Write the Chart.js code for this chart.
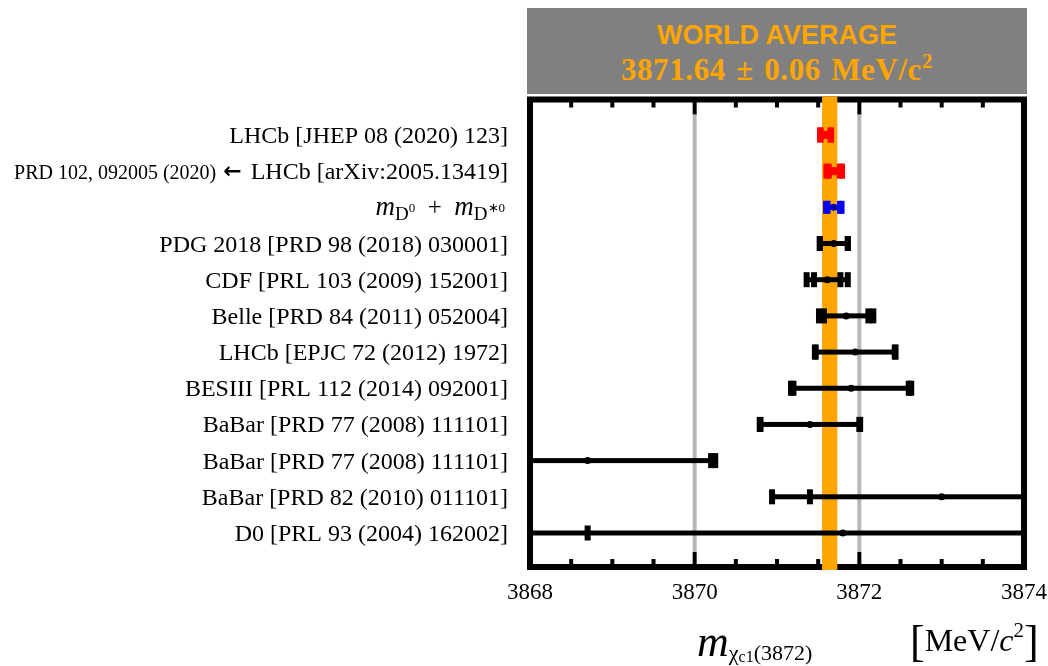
<!DOCTYPE html>
<html>
<head>
<meta charset="utf-8">
<script src="https://cdn.jsdelivr.net/npm/chart.js@4.4.1/dist/chart.umd.min.js"></script>
<style>
  html, body { margin: 0; padding: 0; background: #fff; }
  #wrap { position: relative; width: 1048px; height: 666px; overflow: hidden; }
  #chart { position: absolute; left: 0; top: 0; }
  #head {
    position: absolute; left: 527px; top: 8px; width: 500px; height: 86px;
    background: #808080; color: #FFA500; text-align: center;
  }
  #head .l1 { position: absolute; left: 0; right: 0; top: 12px; font: bold 27px "Liberation Sans", Arial, sans-serif; line-height: 30px; }
  #head .l2 { position: absolute; left: 0; right: 0; top: 44px; font: bold 31px "Liberation Serif", "Times New Roman", serif; line-height: 36px; letter-spacing: 0.6px; word-spacing: 2px; }
  #head .l2 sup { font-size: 21px; vertical-align: 12px; line-height: 0; }
  .xt { position: absolute; font-family: "Liberation Serif", "Times New Roman", serif; color: #000; white-space: nowrap; line-height: 1; }
  #xname { left: 697px; top: 620px; font-size: 44px; }
  #xname sub { font-size: 22px; vertical-align: -4px; }
  #xname sub sub { font-size: 16px; vertical-align: -2px; }
  #xunit { left: 910px; top: 620px; font-size: 32px; }
  #xunit .br { font-size: 44px; vertical-align: -5px; }
  #xunit sup { font-size: 21px; vertical-align: 14px; }
</style>
</head>
<body>
<div id="wrap">
  <canvas id="chart" width="1048" height="666"></canvas>
  <div id="head">
    <div class="l1">WORLD AVERAGE</div>
    <div class="l2">3871.64 ± 0.06 MeV/c<sup>2</sup></div>
  </div>
  <div class="xt" id="xname"><i>m</i><sub>χ<sub>c1</sub>(3872)</sub></div>
  <div class="xt" id="xunit"><span class="br">[</span>MeV/<i>c</i><sup>2</sup><span class="br">]</span></div>
</div>
<script>
// measurements, top row first
const labels = [
  "LHCb [JHEP 08 (2020) 123]",
  "LHCb [arXiv:2005.13419]",
  "mD0+mD*0",
  "PDG 2018 [PRD 98 (2018) 030001]",
  "CDF [PRL 103 (2009) 152001]",
  "Belle [PRD 84 (2011) 052004]",
  "LHCb [EPJC 72 (2012) 1972]",
  "BESIII [PRL 112 (2014) 092001]",
  "BaBar [PRD 77 (2008) 111101]",
  "BaBar [PRD 77 (2008) 111101]",
  "BaBar [PRD 82 (2010) 011101]",
  "D0 [PRL 93 (2004) 162002]"
];
const masses = [3871.59, 3871.695, 3871.69, 3871.69, 3871.61, 3871.84, 3871.95, 3871.9, 3871.4, 3868.7, 3873.0, 3871.8];
const statLow = [0.06, 0.067, 0.07, 0.17, 0.16, 0.27, 0.48, 0.7, 0.6, 1.5, 1.6, 3.1];
const statHigh = [0.06, 0.067, 0.07, 0.17, 0.16, 0.27, 0.48, 0.7, 0.6, 1.5, 1.8, 3.1];
const totLow = [0.067, 0.095, 0.1, 0.17, 0.25, 0.33, 0.49, 0.73, 0.61, 1.55, 2.06, 4.3];
const totHigh = [0.067, 0.095, 0.1, 0.17, 0.25, 0.33, 0.49, 0.73, 0.61, 1.55, 2.22, 4.3];
const worldAvg = 3871.64;
const worldErr = 0.06;
const xTicks = [3868, 3870, 3872, 3874];

const rowColors = ["#ff0000", "#ff0000", "#0000ff", "#000", "#000", "#000", "#000", "#000", "#000", "#000", "#000", "#000"];
const serif = '"Liberation Serif", "Times New Roman", serif';

const errorBars = {
  id: "errorBars",
  beforeDatasetsDraw(chart) {
    const ctx = chart.ctx;
    const a = chart.chartArea;
    const xs = chart.scales.x;
    const ys = chart.scales.y;
    ctx.save();

    // frame
    ctx.strokeStyle = "#000";
    ctx.lineWidth = 6;
    ctx.strokeRect(a.left, a.top, a.right - a.left, a.bottom - a.top);

    // inward ticks every 0.5
    ctx.fillStyle = "#000";
    for (let v = 3868.5; v < 3874; v += 0.5) {
      const px = xs.getPixelForValue(v);
      const major = Math.abs(v - Math.round(v / 2) * 2) < 1e-6;
      const len = major ? 15 : 8;
      ctx.fillRect(px - 2, a.top, 4, len);
      ctx.fillRect(px - 2, a.bottom - len, 4, len);
    }

    // dotted grey lines at 3870 and 3872
    ctx.strokeStyle = "#707070";
    ctx.lineWidth = 4;
    ctx.setLineDash([1, 1]);
    [3870, 3872].forEach(v => {
      const px = xs.getPixelForValue(v);
      ctx.beginPath();
      ctx.moveTo(px, a.top + 15);
      ctx.lineTo(px, a.bottom - 15);
      ctx.stroke();
    });
    ctx.setLineDash([]);

    // world average band
    const b1 = xs.getPixelForValue(worldAvg - worldErr) - 2.7;
    const b2 = xs.getPixelForValue(worldAvg + worldErr) + 2.7;
    ctx.fillStyle = "#FFA500";
    ctx.fillRect(b1, a.top - 3, b2 - b1, a.bottom - a.top + 6);

    // error bars
    ctx.beginPath();
    ctx.rect(a.left + 3, a.top, a.right - a.left - 6, a.bottom - a.top);
    ctx.clip();
    masses.forEach((m, i) => {
      const y = ys.getPixelForValue(i);
      const col = rowColors[i];
      const red = col === "#ff0000";
      const blue = col === "#0000ff";
      const barH = red ? 8 : 5;
      const capW = blue ? 5 : 6;
      const capH = red ? 15 : (blue ? 13 : 15);
      ctx.fillStyle = col;
      const l = xs.getPixelForValue(m - totLow[i]);
      const r = xs.getPixelForValue(m + totHigh[i]);
      ctx.fillRect(l, y - barH / 2, r - l, barH);
      [m - statLow[i], m + statHigh[i], m - totLow[i], m + totHigh[i]].forEach(v => {
        const px = xs.getPixelForValue(v);
        ctx.fillRect(px - capW / 2, y - capH / 2, capW, capH);
      });
    });
    ctx.restore();
  },
  afterDraw(chart) {
    const ctx = chart.ctx;
    const ys = chart.scales.y;
    const right = 508;
    ctx.save();
    ctx.fillStyle = "#000";
    ctx.textBaseline = "alphabetic";
    labels.forEach((t, i) => {
      const base = ys.getPixelForValue(i) + 8;
      if (i === 2) {
        // m_{D^0} + m_{D^{*0}}
        const parts = [
          ["m", "italic 27px " + serif, 0],
          ["D", "19px " + serif, 5],
          ["0", "13px " + serif, -3],
          ["  +  ", "25px " + serif, 0],
          ["m", "italic 27px " + serif, 0],
          ["D", "19px " + serif, 5],
          ["∗0", "13px " + serif, -3]
        ];
        let w = 0;
        parts.forEach(p => { ctx.font = p[1]; w += ctx.measureText(p[0]).width; });
        let x = right - 3 - w;
        ctx.textAlign = "left";
        parts.forEach(p => {
          ctx.font = p[1];
          ctx.fillText(p[0], x, base + p[2]);
          x += ctx.measureText(p[0]).width;
        });
        return;
      }
      ctx.textAlign = "right";
      ctx.font = "24px " + serif;
      ctx.fillText(t, right, base);
      if (i === 1) {
        const w = ctx.measureText(t).width;
        ctx.font = "bold 22px 'DejaVu Sans'";
        ctx.fillText("←", right - w - 9, base - 1);
        const aw = ctx.measureText("←").width;
        ctx.font = "20px " + serif;
        ctx.fillText("PRD 102, 092005 (2020)", right - w - 9 - aw - 7, base);
      }
    });
    ctx.restore();
  }
};

new Chart(document.getElementById("chart"), {
  type: "scatter",
  data: {
    datasets: [{
      data: masses.map((m, i) => ({ x: m, y: i })),
      pointBackgroundColor: rowColors.map(c => c === "#0000ff" ? "#0000aa" : c),
      pointBorderWidth: 0,
      pointRadius: rowColors.map(c => c === "#ff0000" ? 0 : 3.5)
    }]
  },
  options: {
    responsive: false,
    animation: false,
    layout: { padding: { left: 530, right: 24, top: 99.5, bottom: 59 } },
    plugins: { legend: { display: false }, tooltip: { enabled: false } },
    scales: {
      x: {
        type: "linear",
        min: 3868,
        max: 3874,
        afterBuildTicks: s => { s.ticks = xTicks.map(v => ({ value: v })); },
        afterFit: s => { s.height = 40; s.paddingLeft = 0; s.paddingRight = 0; },
        ticks: {
          callback: v => String(v),
          color: "#000",
          font: { family: serif, size: 23 },
          padding: 12,
          maxRotation: 0
        },
        grid: { display: false, drawTicks: false },
        border: { display: false }
      },
      y: {
        type: "linear",
        reverse: true,
        min: -0.98,
        max: 11.94,
        display: false
      }
    }
  },
  plugins: [errorBars]
});
</script>
</body>
</html>
